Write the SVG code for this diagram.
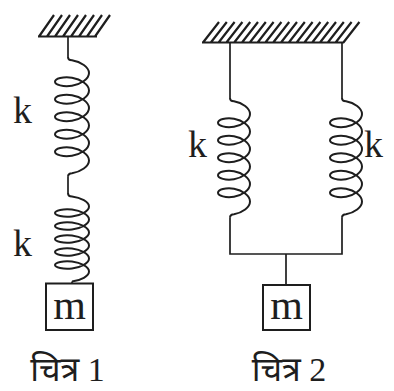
<svg xmlns="http://www.w3.org/2000/svg" width="394" height="391" viewBox="0 0 394 391">
<style>
.w{fill:none;stroke:#1e1e1e;stroke-width:1.7}
.s{fill:none;stroke:#1e1e1e;stroke-width:2}
.h{fill:none;stroke:#1e1e1e;stroke-width:2.2}
.b{fill:#fff;stroke:#1e1e1e;stroke-width:2}
.l{font-family:"Liberation Serif","Times New Roman",serif;font-size:38px;fill:#1e1e1e}
.m{font-family:"Liberation Serif","Times New Roman",serif;font-size:42px;fill:#1e1e1e;text-anchor:middle}
.c{font-family:"Liberation Serif","Noto Sans",sans-serif;font-size:34px;fill:#1e1e1e;text-anchor:middle}
</style>
<rect width="394" height="391" fill="#fff"/>
<g id="ceiling1">
<path class="h" d="M38,36.5H97M39,36.5l15,-21.5M47,36.5l15,-21.5M55,36.5l15,-21.5M63,36.5l15,-21.5M71,36.5l15,-21.5M79,36.5l15,-21.5M87,36.5l15,-21.5M95,36.5l15,-21.5"/>
</g>
<g id="ceiling2">
<path class="h" d="M202,42.5H344M203,42.5l16,-20.5M210.8,42.5l16,-20.5M218.6,42.5l16,-20.5M226.4,42.5l16,-20.5M234.2,42.5l16,-20.5M242,42.5l16,-20.5M249.8,42.5l16,-20.5M257.6,42.5l16,-20.5M265.4,42.5l16,-20.5M273.2,42.5l16,-20.5M281,42.5l16,-20.5M288.8,42.5l16,-20.5M296.6,42.5l16,-20.5M304.4,42.5l16,-20.5M312.2,42.5l16,-20.5M320,42.5l16,-20.5M327.8,42.5l16,-20.5M335.6,42.5l16,-20.5M343.4,42.5l16,-20.5"/>
</g>
<g id="connectors">
<path class="w" d="M68,36.5V57"/>
<path class="w" d="M68,176.8V193"/>
<path class="w" d="M72,281.5V283.5"/>
<path class="w" d="M230,42.5V98"/>
<path class="w" d="M342,42.5V98"/>
<path class="w" d="M230,217.8V254H342V217.8"/>
<path class="w" d="M286,254V285"/>
</g>
<g id="spring1a">
<path class="s" d="M68,57q0,3.2 4,3.2c8.9,1.46 17,6.92 17,12.78c0,5.86 -8.1,11.32 -17,12.78c-8.9,1.46 -17,-1.09 -17,-4.03c0,-2.94 8.1,-5.48 17,-4.03c8.9,1.46 17,6.92 17,12.78c0,5.86 -8.1,11.32 -17,12.78c-8.9,1.46 -17,-1.09 -17,-4.03c0,-2.94 8.1,-5.48 17,-4.03c8.9,1.46 17,6.92 17,12.78c0,5.86 -8.1,11.32 -17,12.78c-8.9,1.46 -17,-1.09 -17,-4.03c0,-2.94 8.1,-5.48 17,-4.03c8.9,1.46 17,6.92 17,12.78c0,5.86 -8.1,11.32 -17,12.78c-8.9,1.46 -17,-1.09 -17,-4.03c0,-2.94 8.1,-5.48 17,-4.03c8.9,1.46 17,6.92 17,12.78c0,5.86 -8.1,11.32 -17,12.78c-8.9,1.46 -17,-1.09 -17,-4.03c0,-2.94 8.1,-5.48 17,-4.03c8.9,1.46 17,6.92 17,12.78c0,5.86 -8.1,11.32 -17,12.78q-4,0 -4,3.5"/>
<text class="l" x="13" y="123">k</text>
</g>
<g id="spring1b">
<path class="s" d="M68,193q0,3.5 4,3.5c8.9,1.08 17,5.38 17,10c0,4.62 -8.1,8.92 -17,10c-8.9,1.08 -17,-1.05 -17,-3.5c0,-2.45 8.1,-4.58 17,-3.5c8.9,1.08 17,5.38 17,10c0,4.62 -8.1,8.92 -17,10c-8.9,1.08 -17,-1.05 -17,-3.5c0,-2.45 8.1,-4.58 17,-3.5c8.9,1.08 17,5.38 17,10c0,4.62 -8.1,8.92 -17,10c-8.9,1.08 -17,-1.05 -17,-3.5c0,-2.45 8.1,-4.58 17,-3.5c8.9,1.08 17,5.38 17,10c0,4.62 -8.1,8.92 -17,10c-8.9,1.08 -17,-1.05 -17,-3.5c0,-2.45 8.1,-4.58 17,-3.5c8.9,1.08 17,5.38 17,10c0,4.62 -8.1,8.92 -17,10c-8.9,1.08 -17,-1.05 -17,-3.5c0,-2.45 8.1,-4.58 17,-3.5c8.9,1.08 17,5.38 17,10c0,4.62 -8.1,8.92 -17,10"/>
<text class="l" x="13" y="256">k</text>
</g>
<g id="mass1">
<rect class="b" x="46" y="283.5" width="47" height="46.5"/>
<text class="m" x="69.5" y="319">m</text>
</g>
<g id="spring2a">
<path class="s" d="M230,98q0,3.2 4,3.2c8.38,1.46 16,6.92 16,12.78c0,5.86 -7.62,11.32 -16,12.78c-8.38,1.46 -16,-1.09 -16,-4.03c0,-2.94 7.62,-5.48 16,-4.03c8.38,1.46 16,6.92 16,12.78c0,5.86 -7.62,11.32 -16,12.78c-8.38,1.46 -16,-1.09 -16,-4.03c0,-2.94 7.62,-5.48 16,-4.03c8.38,1.46 16,6.92 16,12.78c0,5.86 -7.62,11.32 -16,12.78c-8.38,1.46 -16,-1.09 -16,-4.03c0,-2.94 7.62,-5.48 16,-4.03c8.38,1.46 16,6.92 16,12.78c0,5.86 -7.62,11.32 -16,12.78c-8.38,1.46 -16,-1.09 -16,-4.03c0,-2.94 7.62,-5.48 16,-4.03c8.38,1.46 16,6.92 16,12.78c0,5.86 -7.62,11.32 -16,12.78c-8.38,1.46 -16,-1.09 -16,-4.03c0,-2.94 7.62,-5.48 16,-4.03c8.38,1.46 16,6.92 16,12.78c0,5.86 -7.62,11.32 -16,12.78q-4,0 -4,3.5"/>
<text class="l" x="188" y="157">k</text>
</g>
<g id="spring2b">
<path class="s" d="M342,98q0,3.2 4,3.2c8.38,1.46 16,6.92 16,12.78c0,5.86 -7.62,11.32 -16,12.78c-8.38,1.46 -16,-1.09 -16,-4.03c0,-2.94 7.62,-5.48 16,-4.03c8.38,1.46 16,6.92 16,12.78c0,5.86 -7.62,11.32 -16,12.78c-8.38,1.46 -16,-1.09 -16,-4.03c0,-2.94 7.62,-5.48 16,-4.03c8.38,1.46 16,6.92 16,12.78c0,5.86 -7.62,11.32 -16,12.78c-8.38,1.46 -16,-1.09 -16,-4.03c0,-2.94 7.62,-5.48 16,-4.03c8.38,1.46 16,6.92 16,12.78c0,5.86 -7.62,11.32 -16,12.78c-8.38,1.46 -16,-1.09 -16,-4.03c0,-2.94 7.62,-5.48 16,-4.03c8.38,1.46 16,6.92 16,12.78c0,5.86 -7.62,11.32 -16,12.78c-8.38,1.46 -16,-1.09 -16,-4.03c0,-2.94 7.62,-5.48 16,-4.03c8.38,1.46 16,6.92 16,12.78c0,5.86 -7.62,11.32 -16,12.78q-4,0 -4,3.5"/>
<text class="l" x="364" y="157">k</text>
</g>
<g id="mass2">
<rect class="b" x="263" y="285" width="47" height="45"/>
<text class="m" x="286.5" y="319">m</text>
</g>
<g id="captions">
<text class="c" x="67.5" y="381">चित्र 1</text>
<text class="c" x="289" y="381">चित्र 2</text>
</g>
</svg>
